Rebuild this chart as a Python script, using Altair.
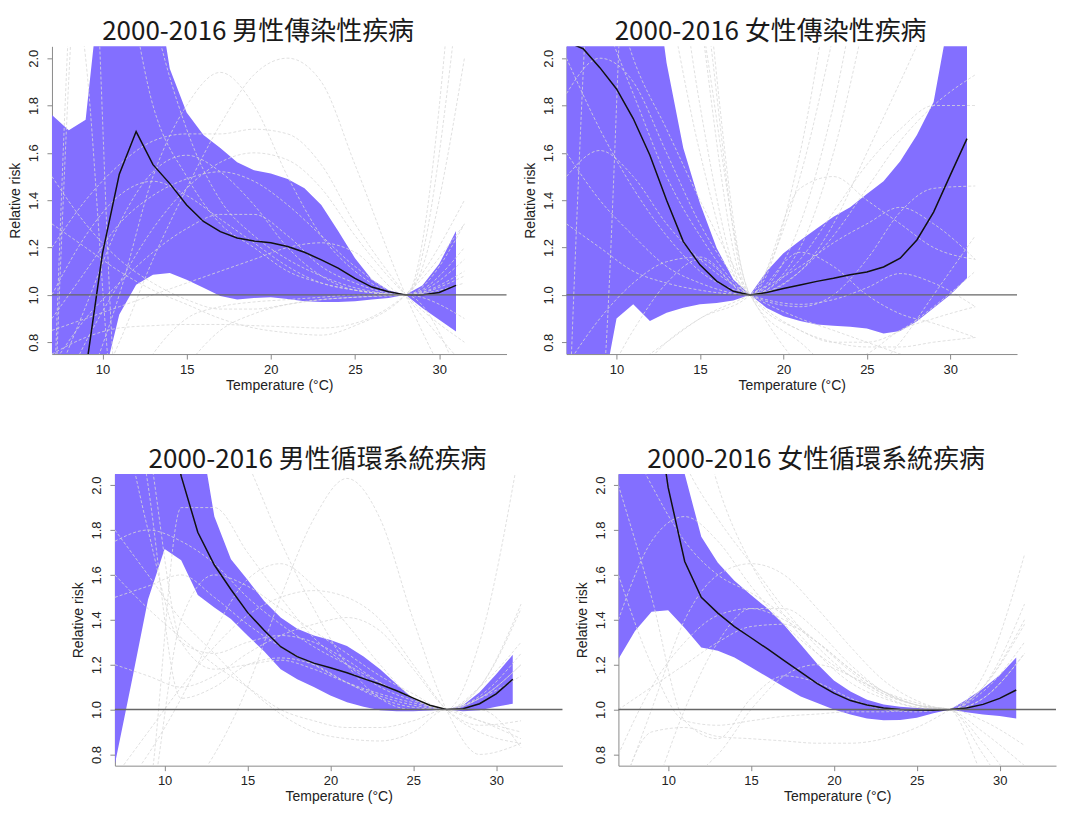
import altair as alt
import pandas as pd

# ---------------- data ----------------
TEMPS = list(range(7, 32))  # 7..31

# Panel 1: 2000-2016 男性傳染性疾病 (reference 28°C)
p1_rr = [0.40, 0.52, 0.675, 1.175, 1.51, 1.69, 1.55, 1.47, 1.38, 1.31, 1.267, 1.24, 1.228,
         1.22, 1.204, 1.18, 1.148, 1.113, 1.07, 1.033, 1.013, 1.0, 1.0, 1.01, 1.04]
p1_hi = [1.76, 1.695, 1.74, 2.4, 2.6, 2.6, 2.4, 1.955, 1.77, 1.675, 1.62, 1.56, 1.527,
         1.513, 1.49, 1.45, 1.38, 1.27, 1.155, 1.065, 1.02, 1.0, 1.04, 1.13, 1.27]
p1_lo = [0.40, 0.45, 0.50, 0.624, 0.917, 1.043, 1.085, 1.092, 1.064, 1.03, 0.995, 0.98, 0.987,
         0.99, 0.983, 0.973, 0.97, 0.97, 0.973, 0.98, 0.987, 1.0, 0.945, 0.895, 0.845]

# Panel 2: 2000-2016 女性傳染性疾病 (reference 18°C)
p2_rr = [2.07, 2.04, 1.96, 1.87, 1.745, 1.59, 1.40, 1.225, 1.127, 1.058, 1.015, 1.0, 1.01,
         1.027, 1.042, 1.057, 1.07, 1.085, 1.097, 1.118, 1.155, 1.232, 1.35, 1.506, 1.66]
p2_hi = [3.0, 3.0, 3.0, 3.0, 2.8, 2.5, 1.98, 1.62, 1.387, 1.198, 1.065, 1.0, 1.10,
         1.176, 1.23, 1.28, 1.33, 1.37, 1.426, 1.48, 1.565, 1.675, 1.815, 2.2, 2.6]
p2_lo = [0.40, 0.40, 0.525, 0.90, 0.96, 0.89, 0.925, 0.946, 0.96, 0.966, 0.976, 1.0, 0.945,
         0.91, 0.89, 0.875, 0.87, 0.865, 0.858, 0.837, 0.847, 0.889, 0.945, 1.0, 1.07]

# Panel 3: 2000-2016 男性循環系統疾病 (reference 27°C)
p3_rr = [3.2, 3.0, 2.8, 2.4, 2.04, 1.79, 1.644, 1.535, 1.433, 1.353, 1.28, 1.236, 1.207,
         1.186, 1.164, 1.138, 1.113, 1.084, 1.051, 1.019, 1.0, 1.004, 1.026, 1.07, 1.135]
p3_hi = [3.5, 3.5, 3.4, 3.0, 2.6, 2.3, 1.86, 1.67, 1.578, 1.484, 1.41, 1.36, 1.33,
         1.31, 1.283, 1.236, 1.18, 1.113, 1.048, 1.012, 1.0, 1.019, 1.077, 1.157, 1.244]
p3_lo = [0.757, 1.12, 1.49, 1.716, 1.665, 1.51, 1.455, 1.404, 1.33, 1.26, 1.18, 1.135, 1.10,
         1.063, 1.033, 1.012, 0.997, 0.993, 0.993, 0.996, 1.0, 0.993, 0.997, 1.012, 1.026]

# Panel 4: 2000-2016 女性循環系統疾病 (reference 27°C)
p4_rr = [3.4, 3.0, 2.5, 1.99, 1.66, 1.50, 1.43, 1.37, 1.32, 1.27, 1.218, 1.167, 1.116,
         1.073, 1.04, 1.02, 1.007, 1.0, 0.998, 0.997, 1.0, 1.007, 1.023, 1.05, 1.087]
p4_hi = [3.5, 3.5, 3.0, 2.5, 2.05, 1.77, 1.654, 1.574, 1.51, 1.45, 1.377, 1.29, 1.203,
         1.13, 1.08, 1.044, 1.022, 1.012, 1.007, 1.004, 1.0, 1.044, 1.094, 1.153, 1.232]
p4_lo = [1.225, 1.35, 1.436, 1.443, 1.363, 1.276, 1.262, 1.232, 1.189, 1.145, 1.10, 1.058, 1.029,
         1.0, 0.978, 0.96, 0.952, 0.953, 0.964, 0.983, 1.0, 0.988, 0.978, 0.971, 0.96]

# City-specific curves (gray dashed)
p1_grid = [7, 9, 11, 13, 15, 17, 19, 21, 23, 25, 28, 31.5]
p1_curves = [
    [0.30, 0.50, 0.80, 1.15, 1.45, 1.72, 1.93, 2.00, 1.90, 1.55, 1.0, 0.50],
    [0.30, 0.60, 1.00, 1.50, 1.80, 1.94, 1.80, 1.50, 1.25, 1.10, 1.0, 1.20],
    [1.20, 1.40, 1.55, 1.65, 1.68, 1.68, 1.70, 1.68, 1.55, 1.30, 1.0, 0.70],
    [0.60, 0.95, 1.30, 1.52, 1.59, 1.52, 1.38, 1.20, 1.08, 1.02, 1.0, 1.10],
    [0.50, 0.80, 1.05, 1.28, 1.45, 1.56, 1.60, 1.57, 1.45, 1.25, 1.0, 0.80],
    [0.90, 1.10, 1.30, 1.42, 1.49, 1.52, 1.48, 1.38, 1.25, 1.12, 1.0, 1.05],
    [1.00, 1.25, 1.42, 1.48, 1.42, 1.32, 1.22, 1.12, 1.05, 1.02, 1.0, 1.08],
    [0.70, 0.90, 1.05, 1.18, 1.28, 1.34, 1.34, 1.25, 1.12, 1.05, 1.0, 1.15],
    [0.85, 0.90, 0.95, 1.00, 1.05, 1.10, 1.15, 1.20, 1.22, 1.18, 1.0, 1.30],
    [0.75, 0.82, 0.86, 0.87, 0.875, 0.875, 0.87, 0.865, 0.86, 0.88, 1.0, 1.30],
    [1.30, 1.20, 1.10, 1.02, 0.96, 0.90, 0.86, 0.84, 0.83, 0.87, 1.0, 1.40],
    [1.50, 1.30, 1.15, 1.05, 0.98, 0.94, 0.94, 0.96, 0.98, 0.99, 1.0, 0.90],
    [0.30, 3.00, 2.50, 1.80, 1.50, 1.30, 1.20, 1.10, 1.05, 1.02, 1.0, 2.50],
    [3.00, 2.00, 0.40, 0.50, 0.70, 0.85, 0.92, 0.96, 0.98, 0.99, 1.0, 2.00],
    [0.20, 2.80, 3.00, 2.20, 1.70, 1.40, 1.25, 1.15, 1.08, 1.03, 1.0, 3.00],
    [3.00, 3.00, 0.50, 0.75, 0.90, 0.95, 0.97, 0.98, 0.99, 1.00, 1.0, 0.60],
]

p2_grid = [7, 9, 11, 13, 15, 18, 21, 23, 25, 27, 29, 31.5]
p2_curves = [
    [1.50, 1.61, 1.50, 1.30, 1.15, 1.0, 0.90, 0.85, 0.80, 0.75, 0.70, 0.60],
    [1.85, 2.00, 1.90, 1.60, 1.30, 1.0, 0.85, 0.80, 0.80, 0.85, 0.95, 1.10],
    [4.00, 3.50, 3.00, 2.30, 1.60, 1.0, 1.30, 1.80, 2.50, 3.00, 3.50, 4.00],
    [5.00, 4.50, 3.80, 2.80, 1.80, 1.0, 1.10, 1.30, 1.60, 1.90, 2.20, 2.50],
    [0.40, 0.60, 0.85, 1.05, 1.15, 1.0, 1.45, 1.50, 1.40, 1.30, 1.20, 1.15],
    [0.70, 0.90, 1.05, 1.14, 1.16, 1.0, 1.18, 1.12, 1.00, 0.92, 0.88, 0.82],
    [0.50, 0.60, 0.70, 0.80, 0.90, 1.0, 1.12, 1.22, 1.30, 1.37, 1.30, 1.15],
    [1.30, 1.20, 1.10, 1.05, 1.02, 1.0, 1.15, 1.35, 1.55, 1.70, 1.80, 1.80],
    [1.60, 1.40, 1.25, 1.12, 1.05, 1.0, 1.10, 1.25, 1.45, 1.65, 1.80, 1.93],
    [2.00, 1.70, 1.45, 1.25, 1.10, 1.0, 0.96, 0.98, 1.03, 1.09, 1.05, 0.95],
    [0.30, 0.50, 0.65, 0.80, 0.90, 1.0, 1.50, 2.10, 2.80, 3.00, 3.00, 3.00],
    [3.00, 2.50, 2.00, 1.70, 1.40, 1.0, 0.70, 0.60, 0.65, 0.80, 1.00, 1.25],
    [2.50, 2.20, 1.85, 1.50, 1.25, 1.0, 0.95, 1.00, 1.15, 1.35, 1.45, 1.46],
    [0.30, 0.50, 3.00, 3.00, 2.20, 1.0, 0.80, 0.70, 0.75, 0.85, 0.90, 0.95],
    [0.20, 3.00, 3.50, 3.20, 2.40, 1.0, 1.20, 1.60, 2.20, 2.80, 3.20, 3.50],
    [6.00, 5.50, 5.00, 4.00, 2.60, 1.0, 0.85, 0.80, 0.78, 0.78, 0.80, 0.82],
    [5.50, 5.00, 4.50, 3.50, 2.20, 1.0, 1.60, 2.40, 3.20, 4.00, 4.50, 5.00],
]

p34_grid = [7, 9, 11, 13, 15, 17, 19, 21, 23, 25, 27, 29, 31.5]
p3_curves = [
    [0.30, 0.45, 0.60, 0.80, 1.10, 1.50, 1.85, 2.03, 1.85, 1.40, 1.0, 0.80, 0.85],
    [0.60, 0.80, 1.05, 1.35, 1.58, 1.65, 1.55, 1.38, 1.20, 1.05, 1.0, 0.95, 0.90],
    [0.70, 0.90, 1.10, 1.28, 1.42, 1.50, 1.53, 1.50, 1.40, 1.20, 1.0, 0.90, 0.85],
    [1.20, 1.15, 1.10, 1.15, 1.25, 1.33, 1.38, 1.41, 1.35, 1.18, 1.0, 0.93, 0.95],
    [1.75, 1.80, 1.75, 1.65, 1.50, 1.38, 1.28, 1.20, 1.12, 1.05, 1.0, 1.05, 1.15],
    [2.50, 1.80, 1.30, 1.25, 1.30, 1.33, 1.30, 1.22, 1.12, 1.05, 1.0, 1.10, 1.30],
    [3.00, 2.20, 1.30, 1.18, 1.20, 1.22, 1.18, 1.12, 1.07, 1.03, 1.0, 1.05, 1.20],
    [3.00, 2.00, 1.05, 1.10, 1.20, 1.23, 1.20, 1.12, 1.05, 1.01, 1.0, 1.10, 1.45],
    [1.60, 1.45, 1.32, 1.20, 1.10, 1.00, 0.95, 0.92, 0.92, 0.95, 1.0, 0.95, 0.87],
    [1.80, 1.60, 1.40, 1.25, 1.10, 0.98, 0.90, 0.87, 0.86, 0.90, 1.0, 1.00, 0.83],
    [3.50, 3.00, 2.70, 2.40, 2.10, 1.75, 1.45, 1.20, 1.05, 1.00, 1.0, 1.30, 2.20],
    [0.20, 0.50, 1.40, 1.60, 1.55, 1.45, 1.35, 1.25, 1.15, 1.07, 1.0, 1.05, 1.20],
    [0.30, 0.60, 1.90, 1.90, 1.70, 1.50, 1.32, 1.20, 1.10, 1.04, 1.0, 1.06, 1.25],
    [1.50, 1.55, 1.60, 1.50, 1.38, 1.28, 1.20, 1.12, 1.06, 1.02, 1.0, 1.10, 1.47],
]
p4_curves = [
    [1.40, 1.75, 1.86, 1.75, 1.55, 1.38, 1.25, 1.15, 1.08, 1.03, 1.0, 1.10, 1.40],
    [0.60, 1.00, 1.40, 1.60, 1.65, 1.60, 1.45, 1.28, 1.13, 1.04, 1.0, 1.05, 1.25],
    [2.30, 2.00, 1.75, 1.60, 1.52, 1.42, 1.30, 1.17, 1.07, 1.02, 1.0, 1.15, 1.69],
    [0.80, 1.10, 1.30, 1.42, 1.45, 1.40, 1.30, 1.18, 1.08, 1.02, 1.0, 0.85, 0.60],
    [1.00, 1.10, 1.20, 1.30, 1.37, 1.38, 1.30, 1.18, 1.08, 1.02, 1.0, 1.10, 1.38],
    [1.60, 1.20, 0.95, 0.93, 0.95, 0.97, 0.98, 0.99, 0.99, 1.00, 1.0, 1.05, 1.25],
    [0.60, 0.90, 0.92, 0.88, 0.87, 0.86, 0.85, 0.85, 0.87, 0.92, 1.0, 1.10, 1.47],
    [2.00, 1.50, 0.95, 0.87, 1.05, 1.15, 1.12, 1.05, 1.00, 0.99, 1.0, 0.95, 0.84],
    [3.00, 2.50, 2.10, 1.85, 1.65, 1.45, 1.28, 1.15, 1.06, 1.01, 1.0, 0.80, 0.50],
    [0.20, 0.60, 1.00, 1.30, 1.45, 1.45, 1.35, 1.20, 1.08, 1.02, 1.0, 0.90, 0.75],
    [0.50, 0.70, 0.70, 0.80, 1.00, 1.15, 1.20, 1.15, 1.07, 1.02, 1.0, 0.70, 0.40],
    [3.00, 3.00, 2.60, 2.00, 1.65, 1.42, 1.25, 1.12, 1.05, 1.01, 1.0, 1.08, 1.30],
]

TITLES = ["2000-2016 男性傳染性疾病", "2000-2016 女性傳染性疾病",
          "2000-2016 男性循環系統疾病", "2000-2016 女性循環系統疾病"]
Y_TICKS = [0.8, 1.0, 1.2, 1.4, 1.6, 1.8, 2.0]
X_TICKS = [10, 15, 20, 25, 30]

BAND = "#836FFF"
FONT = "Liberation Sans"


def panel(title, rr, hi, lo, grid, curves, w, h, xmax):
    main = pd.DataFrame({"t": TEMPS, "rr": rr, "hi": hi, "lo": lo})
    rows = []
    for i, c in enumerate(curves):
        for t, v in zip(grid, c):
            rows.append({"t": t, "v": v, "c": f"c{i}"})
    cdf = pd.DataFrame(rows)

    xs = alt.Scale(domain=[7, xmax], nice=False, zero=False)
    ys = alt.Scale(domain=[0.75, 2.05], nice=False, zero=False)
    xax = alt.Axis(values=X_TICKS, title="Temperature (°C)", format="d")
    yax = alt.Axis(values=Y_TICKS, title="Relative risk", format=".1f",
                   labelAngle=270, labelAlign="center", labelBaseline="bottom")

    def X(f):
        return alt.X(f"{f}:Q", scale=xs, axis=xax)

    def Y(f):
        return alt.Y(f"{f}:Q", scale=ys, axis=yax)

    band = alt.Chart(main).mark_area(color=BAND, clip=True, opacity=1).encode(
        x=X("t"), y=Y("lo"), y2="hi:Q")
    gray = alt.Chart(cdf).mark_line(
        color="#d8d8d8", strokeWidth=0.8, strokeDash=[3, 2], clip=True,
        interpolate="monotone").encode(x=X("t"), y=Y("v"), detail="c:N")
    line = alt.Chart(main).mark_line(color="#111111", strokeWidth=1.5, clip=True).encode(
        x=X("t"), y=Y("rr"))
    ref = alt.Chart(pd.DataFrame({"one": [1.0]})).mark_rule(
        color="#666666", strokeWidth=1.4).encode(y=Y("one"))
    return alt.layer(band, gray, line, ref).properties(
        width=w, height=h,
        title=alt.TitleParams(title, font="Noto Sans CJK TC", fontSize=26,
                              fontWeight="normal", color="#1a1a1a",
                              anchor="middle", frame="bounds", offset=1))


c1 = panel(TITLES[0], p1_rr, p1_hi, p1_lo, p1_grid, p1_curves, 455, 308, 34)
c2 = panel(TITLES[1], p2_rr, p2_hi, p2_lo, p2_grid, p2_curves, 451, 308, 34)
c3 = panel(TITLES[2], p3_rr, p3_hi, p3_lo, p34_grid, p3_curves, 448, 292, 34)
c4 = panel(TITLES[3], p4_rr, p4_hi, p4_lo, p34_grid, p4_curves, 438, 292, 33.4)

# small invisible spacer that shifts the bottom row to the right
spacer = alt.Chart(pd.DataFrame({"a": [0]})).mark_rect(opacity=0).encode(
    x=alt.value(0), x2=alt.value(8), y=alt.value(0), y2=alt.value(5)
).properties(width=8, height=5)

top = alt.hconcat(c1, c2, spacing=15)
bottom = alt.hconcat(spacer, c3, c4, spacing=12)

chart = alt.vconcat(top, bottom, spacing=55).properties(
    padding={"left": 0, "top": 11, "right": 0, "bottom": 0},
).configure_view(stroke=None).configure_axis(
    grid=False, domainColor="#8a8a8a", tickColor="#8a8a8a", tickSize=5,
    labelFont=FONT, labelFontSize=13, labelColor="#222222",
    titleFont=FONT, titleFontSize=14, titleFontWeight="normal", titleColor="#222222",
).configure_axisY(labelPadding=6, titlePadding=5).configure_axisX(
    labelPadding=4, titlePadding=2)

chart.save("out.html", embed_options={"renderer": "svg", "actions": False})
